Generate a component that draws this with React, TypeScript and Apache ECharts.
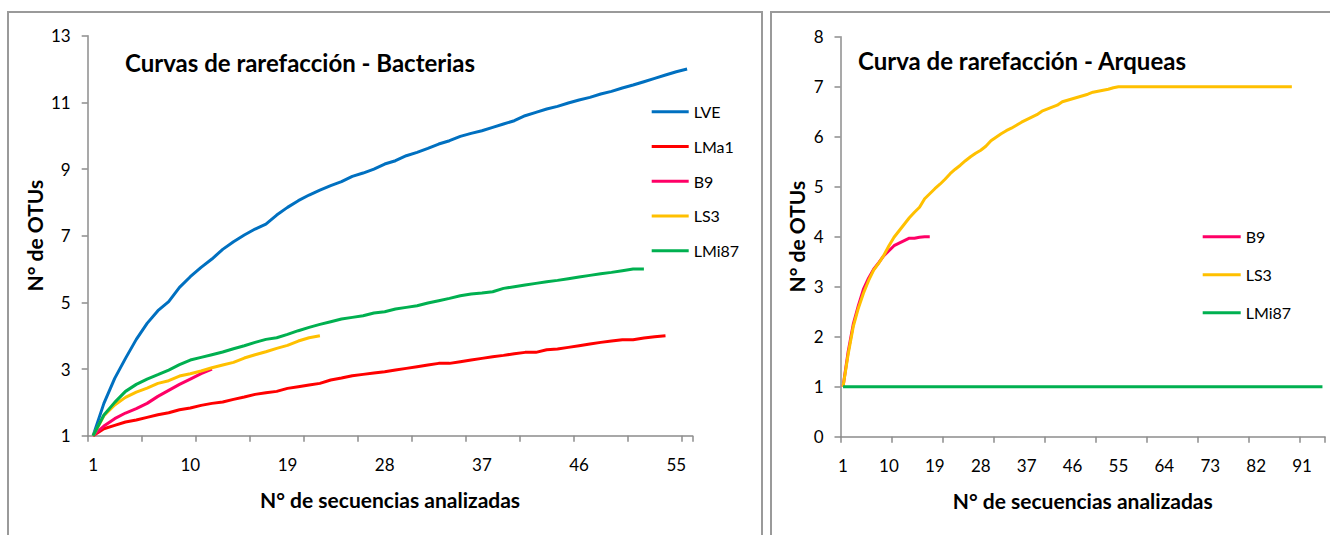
import React, { useEffect, useRef } from "react";
import * as echarts from "echarts";

// ---------- DATA ----------
const bactCategories = Array.from({ length: 56 }, (_, i) => String(i + 1));
const archCategories = Array.from({ length: 95 }, (_, i) => String(i + 1));

const bactNames = ["LVE", "LMa1", "B9", "LS3", "LMi87"];
const archNames = ["B9", "LS3", "LMi87"];

const bactLVE = [
  1, 1.97, 2.72, 3.32, 3.89, 4.37, 4.75, 5.02, 5.45, 5.77,
  6.05, 6.3, 6.59, 6.82, 7.02, 7.2, 7.35, 7.62, 7.85, 8.05,
  8.22, 8.37, 8.5, 8.62, 8.78, 8.88, 9.0, 9.15, 9.25, 9.4,
  9.5, 9.62, 9.75, 9.85, 9.98, 10.07, 10.15, 10.25, 10.35, 10.45,
  10.6, 10.7, 10.8, 10.88, 10.98, 11.07, 11.15, 11.25, 11.33, 11.43,
  11.52, 11.62, 11.72, 11.82, 11.92, 12.0,
];
const bactLMa1 = [
  1, 1.21, 1.31, 1.41, 1.47, 1.55, 1.63, 1.69, 1.78, 1.83,
  1.91, 1.97, 2.01, 2.09, 2.16, 2.24, 2.29, 2.33, 2.42, 2.47,
  2.52, 2.57, 2.67, 2.73, 2.8, 2.84, 2.88, 2.92, 2.97, 3.02,
  3.07, 3.12, 3.17, 3.17, 3.22, 3.27, 3.32, 3.37, 3.41, 3.46,
  3.5, 3.5, 3.58, 3.6, 3.65, 3.7, 3.75, 3.8, 3.84, 3.88,
  3.88, 3.93, 3.97, 4.0,
];
const bactB9 = [1, 1.29, 1.51, 1.68, 1.81, 1.97, 2.18, 2.36, 2.54, 2.7, 2.86, 3.0];
const bactLS3 = [
  1, 1.6, 1.92, 2.15, 2.31, 2.43, 2.57, 2.65, 2.79, 2.86,
  2.94, 3.04, 3.12, 3.2, 3.33, 3.43, 3.52, 3.62, 3.71, 3.84,
  3.94, 4.0,
];
const bactLMi87 = [
  1, 1.62, 2.0, 2.33, 2.54, 2.7, 2.83, 2.97, 3.13, 3.27,
  3.35, 3.43, 3.51, 3.61, 3.7, 3.8, 3.89, 3.94, 4.04, 4.15,
  4.25, 4.34, 4.42, 4.5, 4.55, 4.6, 4.68, 4.72, 4.8, 4.85,
  4.9, 4.98, 5.05, 5.12, 5.2, 5.25, 5.28, 5.32, 5.42, 5.47,
  5.52, 5.57, 5.62, 5.66, 5.71, 5.76, 5.81, 5.86, 5.9, 5.95,
  6.0, 6.0,
];

const archB9 = [
  1, 1.7, 2.25, 2.62, 2.95, 3.17, 3.35, 3.48, 3.62, 3.72,
  3.82, 3.87, 3.92, 3.97, 3.97, 3.99, 4.0, 4.0,
];
const archLS3 = [
  1, 1.65, 2.2, 2.57, 2.87, 3.12, 3.33, 3.47, 3.63, 3.82,
  3.99, 4.12, 4.25, 4.38, 4.49, 4.59, 4.76, 4.86, 4.96, 5.05,
  5.15, 5.26, 5.35, 5.43, 5.52, 5.6, 5.67, 5.73, 5.81, 5.92,
  5.99, 6.06, 6.12, 6.17, 6.23, 6.29, 6.34, 6.39, 6.44, 6.51,
  6.55, 6.59, 6.63, 6.7, 6.73, 6.76, 6.79, 6.82, 6.85, 6.89,
  6.91, 6.93, 6.95, 6.98, 7, 7, 7, 7, 7, 7,
  7, 7, 7, 7, 7, 7, 7, 7, 7, 7,
  7, 7, 7, 7, 7, 7, 7, 7, 7, 7,
  7, 7, 7, 7, 7, 7, 7, 7, 7,
];
const archLMi87 = [
  1, 1, 1, 1, 1, 1, 1, 1, 1, 1,
  1, 1, 1, 1, 1, 1, 1, 1, 1, 1,
  1, 1, 1, 1, 1, 1, 1, 1, 1, 1,
  1, 1, 1, 1, 1, 1, 1, 1, 1, 1,
  1, 1, 1, 1, 1, 1, 1, 1, 1, 1,
  1, 1, 1, 1, 1, 1, 1, 1, 1, 1,
  1, 1, 1, 1, 1, 1, 1, 1, 1, 1,
  1, 1, 1, 1, 1, 1, 1, 1, 1, 1,
  1, 1, 1, 1, 1, 1, 1, 1, 1, 1,
  1, 1, 1, 1, 1,
];

const colors: Record<string, string> = {
  LVE: "#0070C0",
  LMa1: "#FF0000",
  B9: "#FF0066",
  LS3: "#FFC000",
  LMi87: "#00B050",
};

const FONT = "Lato, 'Noto Sans', sans-serif";
const AXIS_COLOR = "#8c8c8c";

export default function App() {
  const ref = useRef<HTMLDivElement>(null);

  useEffect(() => {
    document.body.style.margin = "0";
    const chart = echarts.init(ref.current!, null, { renderer: "svg" });

    const axisLine = { show: true, lineStyle: { color: AXIS_COLOR, width: 1.5 } };
    const tickStyle = { color: AXIS_COLOR, width: 1.5 };
    const labelStyle = { fontSize: 17, color: "#000", fontFamily: FONT };
    const nameStyle = { fontSize: 21, fontWeight: "bold" as const, color: "#000", fontFamily: FONT };

    const mkSeries = (name: string, data: number[], idx: number) => ({
      type: "line",
      name,
      xAxisIndex: idx,
      yAxisIndex: idx,
      data,
      showSymbol: false,
      symbol: "none",
      lineStyle: { width: 3, color: colors[name] },
      itemStyle: { color: colors[name] },
    });

    const option = {
      animation: false,
      backgroundColor: "#ffffff",
      textStyle: { fontFamily: FONT },
      title: [
        {
          text: "Curvas de rarefacción - Bacterias",
          left: 125,
          top: 50,
          padding: 0,
          textStyle: { fontSize: 24, fontWeight: "bold", color: "#000", fontFamily: FONT },
        },
        {
          text: "Curva de rarefacción - Arqueas",
          left: 858,
          top: 48,
          padding: 0,
          textStyle: { fontSize: 24, fontWeight: "bold", color: "#000", fontFamily: FONT },
        },
      ],
      legend: [
        {
          orient: "vertical",
          left: 651.7,
          top: 103.7,
          padding: 0,
          itemWidth: 37,
          itemHeight: 3,
          itemGap: 18.75,
          icon: "rect",
          selectedMode: false,
          data: bactNames,
          textStyle: { fontSize: 16, lineHeight: 16, color: "#000", fontFamily: FONT },
        },
        {
          orient: "vertical",
          left: 1202.7,
          top: 228.7,
          padding: 0,
          itemWidth: 38,
          itemHeight: 3,
          itemGap: 22,
          icon: "rect",
          selectedMode: false,
          data: archNames,
          textStyle: { fontSize: 16, lineHeight: 16, color: "#000", fontFamily: FONT },
        },
      ],
      grid: [
        { left: 87.7, top: 35.7, width: 604.8, height: 400, outerBoundsMode: "none", containLabel: false },
        { left: 840.5, top: 36.7, width: 484.5, height: 400, outerBoundsMode: "none", containLabel: false },
      ],
      xAxis: [
        {
          type: "category",
          gridIndex: 0,
          data: bactCategories,
          boundaryGap: true,
          axisLine,
          axisTick: { show: true, interval: 4, length: 6, lineStyle: tickStyle },
          axisLabel: { ...labelStyle, interval: 8, margin: 20 },
          splitLine: { show: false },
          name: "N° de secuencias analizadas",
          nameLocation: "middle",
          nameGap: 53,
          nameTextStyle: nameStyle,
        },
        {
          type: "category",
          gridIndex: 1,
          data: archCategories,
          boundaryGap: true,
          axisLine,
          axisTick: { show: true, interval: 9, length: 6, lineStyle: tickStyle },
          axisLabel: { ...labelStyle, interval: 8, margin: 20 },
          splitLine: { show: false },
          name: "N° de secuencias analizadas",
          nameLocation: "middle",
          nameGap: 53,
          nameTextStyle: nameStyle,
        },
      ],
      yAxis: [
        {
          type: "value",
          gridIndex: 0,
          min: 1,
          max: 13,
          interval: 2,
          axisLine,
          axisTick: { show: true, length: 6, lineStyle: tickStyle },
          axisLabel: { ...labelStyle, margin: 17 },
          splitLine: { show: false },
          name: "N° de OTUs",
          nameLocation: "middle",
          nameGap: 43,
          nameTextStyle: nameStyle,
        },
        {
          type: "value",
          gridIndex: 1,
          min: 0,
          max: 8,
          interval: 1,
          axisLine,
          axisTick: { show: true, length: 6, lineStyle: tickStyle },
          axisLabel: { ...labelStyle, margin: 17 },
          splitLine: { show: false },
          name: "N° de OTUs",
          nameLocation: "middle",
          nameGap: 34,
          nameTextStyle: nameStyle,
        },
      ],
      graphic: [
        {
          type: "rect",
          silent: true,
          z: -10,
          shape: { x: 8, y: 12, width: 754, height: 560 },
          style: { fill: "none", stroke: "#9a9a9a", lineWidth: 2 },
        },
        {
          type: "rect",
          silent: true,
          z: -10,
          shape: { x: 771, y: 12, width: 600, height: 560 },
          style: { fill: "none", stroke: "#9a9a9a", lineWidth: 2 },
        },
      ],
      series: [
        mkSeries("LVE", bactLVE, 0),
        mkSeries("LMa1", bactLMa1, 0),
        mkSeries("B9", bactB9, 0),
        mkSeries("LS3", bactLS3, 0),
        mkSeries("LMi87", bactLMi87, 0),
        mkSeries("B9", archB9, 1),
        mkSeries("LS3", archLS3, 1),
        mkSeries("LMi87", archLMi87, 1),
      ],
    };

    chart.setOption(option as any);
    return () => chart.dispose();
  }, []);

  return <div ref={ref} style={{ width: 1330, height: 535 }} />;
}
